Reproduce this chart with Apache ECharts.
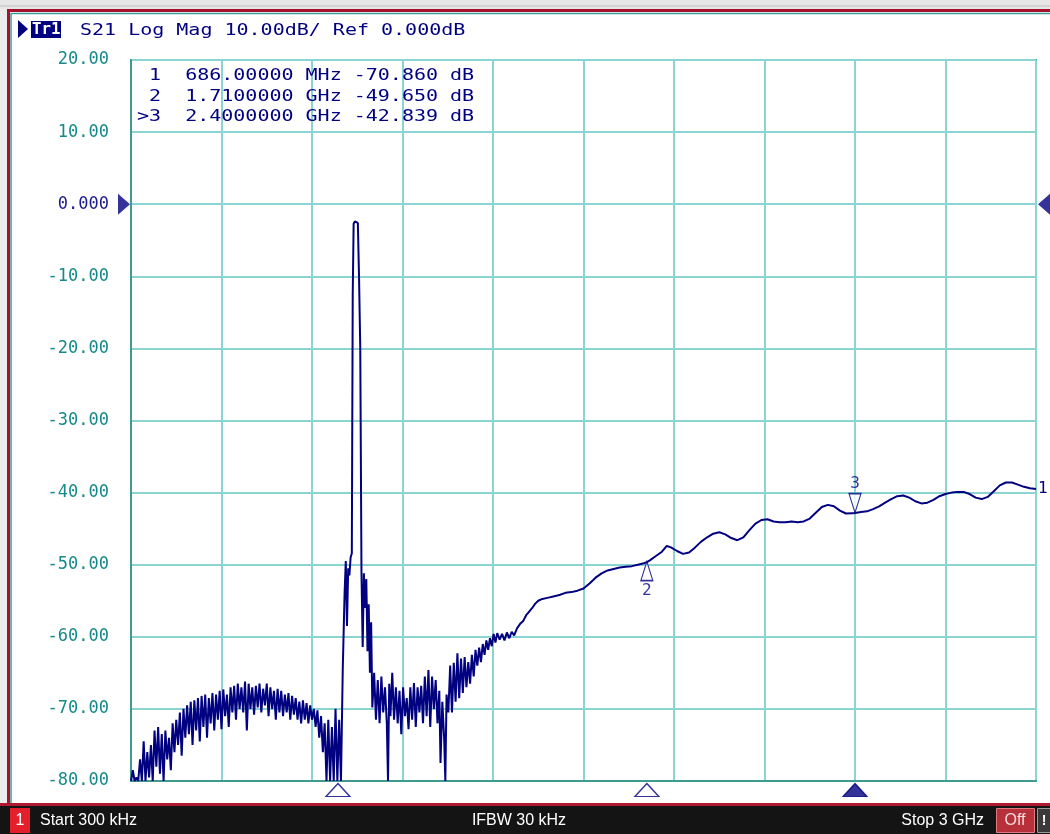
<!DOCTYPE html>
<html><head><meta charset="utf-8">
<script src="https://cdn.jsdelivr.net/npm/echarts@6/dist/echarts.min.js"></script>
<style>html,body{margin:0;padding:0;background:#fff}#c{width:1050px;height:834px}</style>
</head><body><div id="c"></div>
<script>
// ---- data (frequency in MHz, level in dB) ----
const startMHz = 0;
const stopMHz = 3000;
const xStepMHz = 300;
const yTickValues = [20, 10, 0, -10, -20, -30, -40, -50, -60, -70, -80];
const yTickLabels = ['20.00', '10.00', '0.000', '-10.00', '-20.00', '-30.00', '-40.00', '-50.00', '-60.00', '-70.00', '-80.00'];

const traceHump = [[0.3,-80],[6,-78.5],[12,-80],[18,-79.5],[24,-80],[30,-77],[36,-80],[42,-74.5],[48,-80],[54,-76],[60,-79.5],[66,-75],[72,-80],[78,-73],[84,-78],[90,-72.5],[96,-79],[102,-73.5],[108,-80],[114,-73],[120,-77],[126,-74],[132,-78.5],[138,-72],[144,-76],[150,-71.5],[156,-75],[162,-70.5],[168,-76.5],[174,-70],[180,-74],[186,-69.5],[192,-73.5],[198,-69],[204,-75],[210,-68.8],[216,-73],[222,-68.5],[228,-74.5],[234,-68.2],[240,-72.5],[246,-68],[252,-74],[258,-68.5],[264,-72],[270,-67.8],[276,-73],[282,-68],[288,-71.5],[294,-67.5],[300,-72.8],[306,-67.3],[312,-71],[318,-68],[324,-72.5],[330,-67],[336,-70.5],[342,-66.8],[348,-71.5],[354,-66.5],[360,-70],[366,-67],[372,-70.5],[378,-66.2],[384,-73],[390,-66.5],[396,-70],[402,-67],[408,-70.8],[414,-66.8],[420,-69.8],[426,-66.5],[432,-70.5],[438,-67.2],[444,-69.5],[450,-66.5],[456,-71],[462,-67],[468,-70],[474,-67.5],[480,-71.5],[486,-67.2],[492,-70.5],[498,-67.5],[504,-71],[510,-68],[516,-70.5],[522,-67.8],[528,-71.5],[534,-68.2],[540,-70.8],[546,-68.5],[552,-71.5],[558,-69],[564,-72],[570,-68.8],[576,-71.5],[582,-69.2],[588,-72],[594,-69.5],[600,-71.5],[606,-70],[612,-72.5],[618,-70.2],[624,-74],[630,-71],[636,-76],[642,-72],[648,-80],[654,-71.5],[660,-80],[666,-72.5],[672,-80],[678,-70],[684,-80],[690,-71.5],[696,-80]];

const tracePeak = [[702,-64.4],[708,-54],[712,-49.5],[716,-58.5],[720,-50.5],[724,-51.5],[728,-49],[732,-48.4],[735,-12.6],[738,-2.7],[742,-2.4],[748,-2.3],[752,-2.6],[756,-10.3],[760,-20],[764,-51],[768,-61.4],[772,-51.2],[776,-56],[780,-52],[784,-62],[788,-55.5],[792,-65],[796,-58],[800,-69.8]];

const traceFloor = [[806,-65],[812,-71.5],[818,-66],[824,-72],[830,-65.5],[836,-70.5],[842,-67],[848,-72],[852,-80],[856,-66.5],[860,-71],[866,-65],[872,-71.5],[878,-67],[884,-72],[890,-67.5],[896,-73.5],[902,-67],[908,-71],[914,-68.5],[920,-72.8],[926,-67],[932,-71.5],[938,-66.4],[944,-72.5],[950,-67],[956,-70.5],[962,-66.8],[968,-72],[974,-65.5],[980,-71],[986,-64.6],[992,-72.5],[998,-65.5],[1004,-70],[1010,-66],[1016,-72],[1022,-67.5],[1026,-77.5],[1032,-69],[1038,-74],[1042,-80],[1046,-68],[1052,-70.5],[1058,-64],[1064,-70.5],[1070,-63.6],[1076,-69],[1082,-62.3],[1088,-68.5],[1094,-63],[1100,-67.8],[1106,-62.8],[1112,-67],[1118,-63.5],[1124,-66.5],[1130,-62.5],[1136,-65.5],[1142,-61.8],[1148,-64],[1154,-61.5],[1160,-63.5],[1166,-61],[1172,-62.5],[1178,-60.5],[1184,-61.8],[1190,-60.2],[1196,-61.3],[1202,-59.6],[1208,-60.8],[1214,-59.5]];

const traceSlope = [[1222,-60.4],[1230,-59.6],[1238,-60.5],[1246,-59.4],[1254,-60.2],[1262,-59.3],[1270,-59.8],[1280,-58.8],[1290,-58.2],[1300,-57.8],[1310,-57],[1320,-56.5],[1330,-56],[1340,-55.4],[1350,-55],[1360,-54.8],[1380,-54.6],[1400,-54.4],[1420,-54.2],[1440,-53.9],[1460,-53.8],[1480,-53.6],[1500,-53.3],[1520,-52.6],[1540,-51.8],[1560,-51.2],[1580,-50.8],[1600,-50.6],[1620,-50.4],[1640,-50.3],[1660,-50.2],[1680,-50.0],[1700,-49.8],[1710,-49.65],[1720,-49.4],[1740,-48.8],[1760,-48.2],[1776,-47.4],[1790,-47.6],[1810,-48.1],[1830,-48.5],[1850,-48.3],[1870,-47.6],[1890,-46.8],[1910,-46.2],[1930,-45.7],[1950,-45.5],[1970,-45.8],[1990,-46.3],[2010,-46.6],[2030,-46.2],[2050,-45.2],[2070,-44.3],[2090,-43.8],[2110,-43.7],[2130,-44.0],[2150,-44.1],[2170,-44.1],[2190,-44.0],[2210,-44.1],[2230,-44.0],[2250,-43.6],[2270,-42.8],[2290,-42.0],[2310,-41.7],[2330,-41.9],[2350,-42.5],[2370,-42.9],[2390,-42.85],[2400,-42.84],[2420,-42.7],[2440,-42.6],[2460,-42.3],[2480,-41.9],[2500,-41.4],[2520,-40.9],[2540,-40.5],[2560,-40.4],[2580,-40.7],[2600,-41.2],[2620,-41.5],[2640,-41.4],[2660,-41.0],[2680,-40.5],[2700,-40.2],[2720,-40.0],[2740,-39.9],[2760,-39.9],[2780,-40.2],[2800,-40.7],[2820,-40.9],[2840,-40.6],[2860,-39.8],[2880,-39.0],[2900,-38.6],[2920,-38.6],[2940,-38.9],[2960,-39.2],[2980,-39.4],[3000,-39.5]];

const markerNames = ['1', '2', '3'];
const markerFreqMHz = [686, 1710, 2400];
const markerDb = [-70.860, -49.650, -42.839];
const markerReadout = [' 1  686.00000 MHz -70.860 dB', ' 2  1.7100000 GHz -49.650 dB', '>3  2.4000000 GHz -42.839 dB'];
const activeMarker = 3;
const refLevelDb = 0;
const headerText = 'S21 Log Mag 10.00dB/ Ref 0.000dB';
const footerStart = 'Start 300 kHz';
const footerIfbw = 'IFBW 30 kHz';
const footerStop = 'Stop 3 GHz';

// ---- chart ----
const NAVY = '#000080';
const TEAL = '#168a8a';
const MONO = 'DejaVu Sans Mono';
const trace = [].concat(traceHump, tracePeak, traceFloor, traceSlope);

function monoText(x, y, text, color, size, sx, weight) {
  return { type: 'text', x: x, y: y, scaleX: sx, z: 50,
    style: { text: text, fill: color, font: (weight || 'normal') + ' ' + size + 'px "' + MONO + '"', textVerticalAlign: 'middle' } };
}

const graphics = [
  { type: 'rect', shape: { x: 0, y: 0, width: 1050, height: 9 }, style: { fill: '#e6e6e6' }, z: 1 },
  { type: 'line', shape: { x1: 0, y1: 6, x2: 1050, y2: 6 }, style: { stroke: '#bdbdbd', lineWidth: 1 }, z: 2 },
  { type: 'rect', shape: { x: 0, y: 9, width: 7, height: 800 }, style: { fill: '#ececec' }, z: 1 },
  { type: 'rect', shape: { x: 8.5, y: 10.5, width: 1060, height: 794 }, style: { fill: 'none', stroke: '#a5122e', lineWidth: 3 }, z: 2 },
  { type: 'line', shape: { x1: 11, y1: 13, x2: 11, y2: 803 }, style: { stroke: '#3c9c96', lineWidth: 1.5 }, z: 2 },
  { type: 'line', shape: { x1: 11, y1: 13.5, x2: 1050, y2: 13.5 }, style: { stroke: '#3c9c96', lineWidth: 1.5 }, z: 2 },
  // header
  { type: 'polygon', shape: { points: [[18, 20], [28, 29], [18, 38]] }, style: { fill: NAVY }, z: 50 },
  { type: 'rect', shape: { x: 31, y: 21, width: 30, height: 17 }, style: { fill: NAVY }, z: 50 },
  monoText(32, 30, 'Tr1', '#ffffff', 15, 1.05, 'bold'),
  monoText(80, 30.5, headerText, NAVY, 16, 1.25),
  // marker readout
  monoText(137, 76, markerReadout[0], NAVY, 16, 1.25),
  monoText(137, 96.5, markerReadout[1], NAVY, 16, 1.25),
  monoText(137, 117, markerReadout[2], NAVY, 16, 1.25),
  // footer
  { type: 'rect', shape: { x: 0, y: 803, width: 1050, height: 3 }, style: { fill: '#b01830' }, z: 3 },
  { type: 'rect', shape: { x: 0, y: 806, width: 1050, height: 28 }, style: { fill: '#141414' }, z: 3 },
  { type: 'rect', shape: { x: 10, y: 808, width: 20, height: 25 }, style: { fill: '#e3202c' }, z: 4 },
  { type: 'text', x: 20, y: 821, z: 5, style: { text: '1', fill: '#fff', font: '16px "Liberation Sans"', textAlign: 'center', textVerticalAlign: 'middle' } },
  { type: 'text', x: 40, y: 821, z: 5, style: { text: footerStart, fill: '#fff', font: '16px "Liberation Sans"', textVerticalAlign: 'middle' } },
  { type: 'text', x: 519, y: 821, z: 5, style: { text: footerIfbw, fill: '#fff', font: '16px "Liberation Sans"', textAlign: 'center', textVerticalAlign: 'middle' } },
  { type: 'text', x: 984, y: 821, z: 5, style: { text: footerStop, fill: '#fff', font: '16px "Liberation Sans"', textAlign: 'right', textVerticalAlign: 'middle' } },
  { type: 'rect', shape: { x: 996.5, y: 808.5, width: 38, height: 24 }, style: { fill: '#b8303a', stroke: '#e07a80', lineWidth: 1 }, z: 4 },
  { type: 'text', x: 1015, y: 821, z: 5, style: { text: 'Off', fill: '#f4dede', font: '16px "Liberation Sans"', textAlign: 'center', textVerticalAlign: 'middle' } },
  { type: 'rect', shape: { x: 1037.5, y: 808.5, width: 14, height: 24 }, style: { fill: '#3a3a3a', stroke: '#9a9a9a', lineWidth: 1 }, z: 4 },
  { type: 'text', x: 1044, y: 821, z: 5, style: { text: '!', fill: '#fff', font: 'bold 14px "Liberation Sans"', textAlign: 'center', textVerticalAlign: 'middle' } }
];

const chart = echarts.init(document.getElementById('c'), null, { renderer: 'canvas' });
chart.setOption({
  backgroundColor: '#ffffff',
  animation: false,
  grid: { left: 131, right: 14, top: 60, bottom: 53, show: true, borderColor: '#3f9a92', borderWidth: 2, backgroundColor: 'transparent' },
  xAxis: {
    type: 'value', min: startMHz, max: stopMHz, interval: xStepMHz,
    axisLabel: { show: false }, axisTick: { show: false },
    axisLine: { show: true, onZero: false, lineStyle: { color: '#3f9a92', width: 2 } },
    splitLine: { show: true, lineStyle: { color: '#8ad4d4', width: 2 } }
  },
  yAxis: {
    type: 'value', min: -80, max: 20, interval: 10,
    axisTick: { show: false },
    axisLine: { show: true, lineStyle: { color: '#3f9a92', width: 2 } },
    splitLine: { show: true, lineStyle: { color: '#8ad4d4', width: 2 } },
    axisLabel: {
      margin: 22, fontFamily: MONO, fontSize: 17,
      formatter: function (v) { const i = yTickValues.indexOf(Number(v)); return i >= 0 ? yTickLabels[i] : ''; },
      color: function (v) { return Number(v) === refLevelDb ? '#1c1c90' : TEAL; }
    }
  },
  graphic: graphics,
  series: [
    {
      type: 'line', data: trace, showSymbol: false, z: 10,
      lineStyle: { color: NAVY, width: 2 },
      endLabel: { show: true, formatter: '1', color: NAVY, fontFamily: MONO, fontSize: 16, distance: 2 }
    },
    {
      type: 'scatter', z: 12, silent: true,
      data: [
        { value: [markerFreqMHz[1], markerDb[1]], symbolRotate: 0, symbolOffset: [0, 9], label: { position: 'bottom', formatter: markerNames[1] } },
        { value: [markerFreqMHz[2], markerDb[2]], symbolRotate: 180, symbolOffset: [0, -10], label: { position: 'top', formatter: markerNames[2] } }
      ],
      symbol: 'triangle', symbolSize: [12, 19],
      itemStyle: { color: '#ffffff', borderColor: NAVY, borderWidth: 1.3 },
      label: { show: true, color: NAVY, fontFamily: MONO, fontSize: 16, distance: 1 }
    },
    {
      type: 'scatter', z: 12, silent: true, clip: false,
      data: markerFreqMHz.map(function (f, i) {
        const active = (i + 1) === activeMarker;
        return { value: [f, -80], itemStyle: { color: active ? NAVY : '#ffffff', borderColor: NAVY, borderWidth: 1.3 } };
      }),
      symbol: 'triangle', symbolSize: [24, 13], symbolOffset: [0, 9]
    },
    {
      type: 'scatter', z: 12, silent: true, clip: false,
      data: [
        { value: [startMHz, refLevelDb], symbolRotate: -90, symbolOffset: [-7, 0] },
        { value: [stopMHz, refLevelDb], symbolRotate: 90, symbolOffset: [8, 0] }
      ],
      symbol: 'triangle', symbolSize: [21, 12],
      itemStyle: { color: NAVY }
    }
  ]
});
</script>
</body></html>
